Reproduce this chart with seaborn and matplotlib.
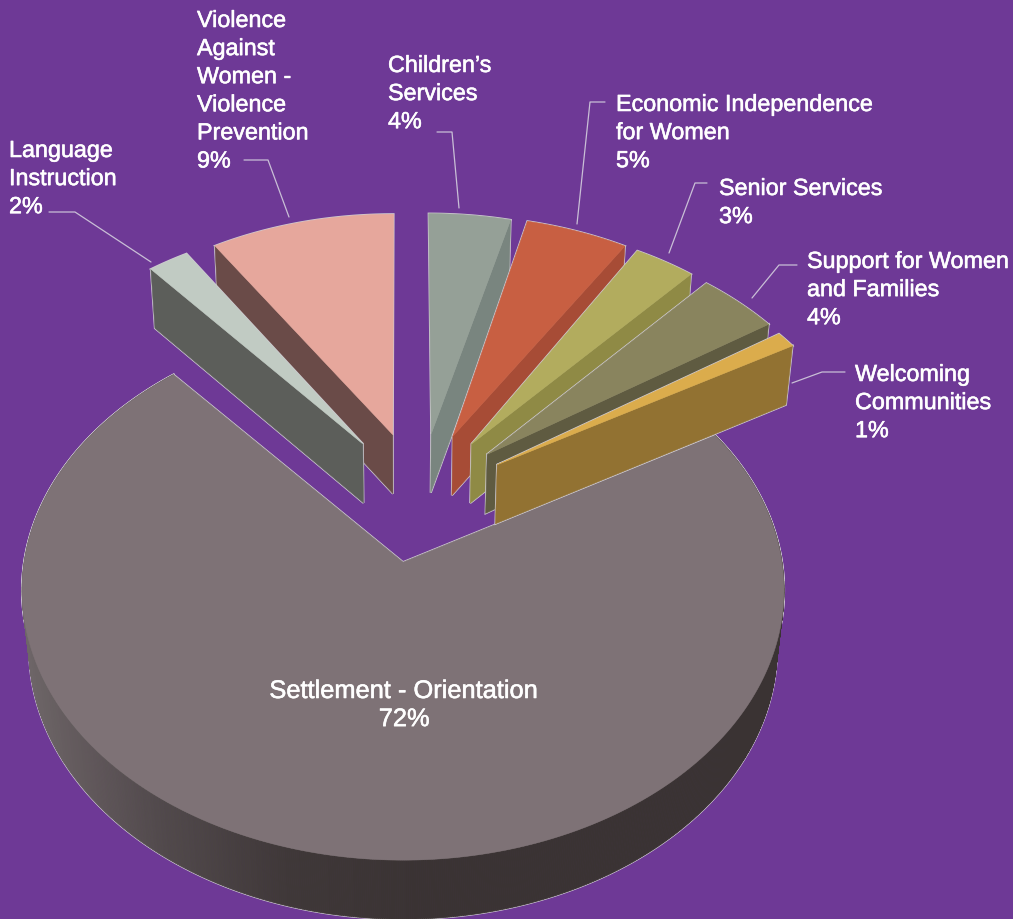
import numpy as np
import matplotlib
matplotlib.use("Agg")
import matplotlib.pyplot as plt
import matplotlib.patheffects as pe
import seaborn as sns

# Funding shares by service stream, clockwise from twelve o'clock
categories = [
    "Children's\nServices",
    "Economic Independence\nfor Women",
    "Senior Services",
    "Support for Women\nand Families",
    "Welcoming\nCommunities",
    "Settlement - Orientation",
    "Language\nInstruction",
    "Violence\nAgainst\nWomen -\nViolence\nPrevention",
]
shares = [4, 5, 3, 4, 1, 72, 2, 9]
top_colors = ["#95A097", "#C85F42", "#B2AC5E", "#89845E", "#DBAC4C", "#7E7276", "#C1CBC3", "#E6A79C"]
wall_colors = ["#79857F", "#A74C36", "#8F8A45", "#5F5B41", "#927232", "#3A3333", "#5C5E5A", "#6A4B48"]

BACKGROUND = "#6E3996"
EDGE = "#CFCBD2"

# Perspective camera for the tilted disc, in pixel coordinates
ORIGIN_X, ORIGIN_Y = 403.0, 562.0
FOCAL_X, FOCAL_Y, CAMERA_DIST = 3660.0, 2580.0, 9.66
THICKNESS_PX = 59.0
BOTTOM_RECEDE = 0.18
EXPLODE = 0.25
HUB_X, HUB_Y = 0.047, 0.245

# Small per-slice placement tweaks: rotation in degrees, shift in pixels
placement = [
    (0.0, 0, -3),
    (-0.5, -3, -5),
    (-1.5, -4, -5),
    (-1.5, -3, -4),
    (-1.5, -1.5, -1.5),
    (-1.2, 0, 0),
    (0.0, -4, -4),
    (0.0, -2, -4),
]


def project(px, py, lower=False):
    """Map points on the pie plane to pixels, on the top or bottom face."""
    w = CAMERA_DIST + py
    if lower:
        return (ORIGIN_X + FOCAL_X * px / (w + BOTTOM_RECEDE),
                ORIGIN_Y - FOCAL_Y * py / w + THICKNESS_PX)
    return ORIGIN_X + FOCAL_X * px / w, ORIGIN_Y - FOCAL_Y * py / w


def slice_outline(start, stop, rotation):
    """Apex and arc of one exploded slice on the pie plane."""
    mid = np.radians((start + stop) / 2)
    ax0 = HUB_X + EXPLODE * np.sin(mid)
    ay0 = HUB_Y + EXPLODE * np.cos(mid)
    theta = np.radians(np.linspace(start, stop, max(8, int(stop - start) * 2)) + rotation)
    return ax0, ay0, ax0 + np.sin(theta), ay0 + np.cos(theta)


sns.set_theme(style="white", rc={"figure.facecolor": BACKGROUND, "axes.facecolor": BACKGROUND})
plt.rcParams["font.family"] = ["Liberation Sans", "DejaVu Sans"]

fig, ax = plt.subplots(figsize=(10.13, 9.19), dpi=100)
ax.set_position([0, 0, 1, 1])
ax.set_xlim(0, 1013)
ax.set_ylim(919, 0)
ax.axis("off")

bounds = np.concatenate([[0], np.cumsum(shares)]) * 3.6
rim_shades = sns.blend_palette(["#6E6668", "#524B4C", "#3F3838", "#3A3333"], 128)

# Paint from the back: main slice first, then the fan of small slices
paint_order = [5, 7, 6, 0, 1, 2, 3, 4]
for depth, i in enumerate(paint_order):
    order = 2 + depth
    start, stop = bounds[i], bounds[i + 1]
    rotation, shift_x, shift_y = placement[i]
    ax0, ay0, arc_x, arc_y = slice_outline(start, stop, rotation)
    top_x, top_y = project(np.r_[ax0, arc_x], np.r_[ay0, arc_y])
    top_x, top_y = top_x + shift_x, top_y + shift_y

    if i == 5:
        # Front rim of the big slice, shaded across its width
        fine = np.radians(np.linspace(start + rotation, stop + rotation, 900))
        fx, fy = ax0 + np.sin(fine), ay0 + np.cos(fine)
        tx, ty = project(fx, fy)
        bx, by = project(fx, fy, lower=True)
        ax.fill(np.r_[tx, bx[::-1]], np.r_[ty, by[::-1]], facecolor="none",
                edgecolor=EDGE, lw=1.5, zorder=order)
        for k in range(len(fx) - 1):
            frac = np.clip((tx[k] - 20) / 400, 0, 1)
            shade = rim_shades[int(frac * 127)]
            ax.fill([tx[k], tx[k + 1], bx[k + 1], bx[k]], [ty[k], ty[k + 1], by[k + 1], by[k]],
                    facecolor=shade, edgecolor=shade, lw=0.5, zorder=order + 0.1)
    else:
        # Radial side wall facing the viewer
        edge_idx = -1 if (start + stop) / 2 < 180 else 0
        ex = np.array([ax0, arc_x[edge_idx]])
        ey = np.array([ay0, arc_y[edge_idx]])
        tx, ty = project(ex, ey)
        bx, by = project(ex, ey, lower=True)
        wall_x = np.r_[tx, bx[::-1]] + shift_x
        wall_y = np.r_[ty, by[::-1]] + shift_y
        # Light stroke first; the fill on top leaves it only on the silhouette
        ax.fill(wall_x, wall_y, facecolor="none", edgecolor=EDGE, lw=1.5, zorder=order)
        ax.fill(wall_x, wall_y, facecolor=wall_colors[i], edgecolor=wall_colors[i], lw=0.4, zorder=order + 0.1)

    ax.fill(top_x, top_y, facecolor="none", edgecolor=EDGE, lw=1.5, zorder=order)
    ax.fill(top_x, top_y, facecolor=top_colors[i], edgecolor=top_colors[i], lw=0.4, zorder=order + 0.2)

# Leader lines from the slices to their labels
leaders = [
    ([437, 452, 459], [132, 132, 208]),
    ([605, 590, 577], [102, 102, 224]),
    ([707, 695, 669], [183, 183, 253]),
    ([797, 779, 752], [265, 265, 298]),
    ([845, 822, 792], [372, 372, 383]),
    ([49, 75, 151], [212, 212, 262]),
    ([244, 268, 289], [160, 160, 217]),
]
for lx, ly in leaders:
    ax.plot(lx, ly, color="#C9BFD6", lw=0.9, zorder=1)

# Category and percentage labels, thickened a touch to a medium weight
label_anchor = [(388, 72), (616, 111), (719, 195), (807, 268), (855, 381), (404, 698), (9, 157), (197, 27)]
LINE_PITCH = 28.1
medium = [pe.withStroke(linewidth=0.4, foreground="white")]
for i, (name, share) in enumerate(zip(categories, shares)):
    lines = name.replace("'", "\u2019").split("\n") + [f"{share}%"]
    x, y = label_anchor[i]
    centred = name.startswith("Settlement")
    for j, line in enumerate(lines):
        ax.text(x, y + j * LINE_PITCH, line, color="white", fontsize=18.3 if centred else 16.8,
                ha="center" if centred else "left", va="baseline", zorder=30, path_effects=medium)

fig.savefig("out.png", dpi=100, facecolor=BACKGROUND)
